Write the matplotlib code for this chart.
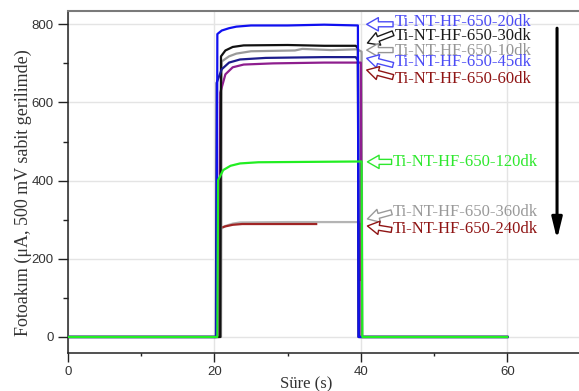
import numpy as np
import matplotlib
matplotlib.use("Agg")
import matplotlib.pyplot as plt
from matplotlib.ticker import MultipleLocator

# ---------------- data (time in s, photocurrent in uA) ----------------
t_20dk = [0, 20.3, 20.4, 21.0, 22.0, 23.0, 25.0, 30, 35, 39.6, 39.7, 60]
v_20dk = [0, 0, 775, 784, 790, 794, 797, 797, 799, 797, 0, 0]

t_30dk = [0, 20.8, 20.9, 21.5, 22.5, 24, 30, 35, 39.3, 39.6, 39.7, 60]
v_30dk = [0, 0, 718, 733, 742, 746, 747, 745, 745, 739, 0, 0]

t_10dk = [0, 20.9, 21.0, 22, 23, 25, 31, 32, 36, 39.5, 40.1, 40.2, 60]
v_10dk = [0, 0, 705, 718, 725, 731, 733, 737, 734, 736, 730, 0, 0]

t_45dk = [0, 20.2, 20.3, 21, 22, 23.5, 27, 35, 39.3, 39.6, 39.7, 60]
v_45dk = [0, 0, 650, 685, 702, 710, 714, 716, 716, 708, 0, 0]

t_60dk = [0, 20.6, 20.8, 21.5, 22.5, 24, 28, 35, 40, 40.1, 60]
v_60dk = [0, 0, 625, 672, 690, 697, 700, 702, 702, 0, 0]

t_120dk = [0, 20.4, 20.5, 21.2, 22.2, 23.5, 26, 33, 40.1, 40.2, 60]
v_120dk = [0, 0, 401, 427, 438, 444, 447, 448, 449, 0, 0]

t_360dk = [0, 20.6, 20.7, 21.5, 22.5, 23.5, 30, 39.8, 39.9, 60]
v_360dk = [0, 0, 274, 284, 290, 293, 294, 294, 0, 0]

t_240dk = [20.8, 21.5, 22.5, 23.8, 33.9, np.nan, 40.0, 40.0]
v_240dk = [279, 283, 287, 289, 289, np.nan, 289, 146]

labels = ["Ti-NT-HF-650-20dk", "Ti-NT-HF-650-30dk", "Ti-NT-HF-650-10dk",
          "Ti-NT-HF-650-45dk", "Ti-NT-HF-650-60dk", "Ti-NT-HF-650-120dk",
          "Ti-NT-HF-650-360dk", "Ti-NT-HF-650-240dk"]

x_ticks = [0, 20, 40, 60]
y_ticks = [0, 200, 400, 600, 800]

# ---------------- styling / layout ----------------
line_colors = {
    "20dk": "#1010f0", "30dk": "#111111", "10dk": "#9a9a9a", "45dk": "#1c1c8c",
    "60dk": "#8e1e8e", "120dk": "#22ee22", "360dk": "#b4b4b4", "240dk": "#a02424",
}
text_colors = ["#4b4bf5", "#1a1a1a", "#959595", "#4b4bf5", "#8f1414",
               "#2ee82e", "#9a9a9a", "#8f1414"]
# (text x, text y, head (x,y), tail (x,y)) in data coordinates
ann_layout = [
    (44.7, 806, (40.8, 800), (44.4, 800)),
    (44.7, 770, (40.9, 752), (44.4, 777)),
    (44.7, 731, (40.8, 734), (44.4, 734)),
    (44.7, 703, (40.8, 713), (44.4, 696)),
    (44.7, 660, (40.8, 683), (44.4, 665)),
    (44.4, 448, (40.9, 448), (44.2, 448)),
    (44.4, 320, (40.9, 302), (44.2, 319)),
    (44.4, 276, (40.9, 284), (44.2, 274)),
]

fig = plt.figure(figsize=(5.79, 3.91), dpi=100)
ax = fig.add_axes([68 / 579, 1 - 353 / 391, 1 - 68 / 579, (353 - 11) / 391])

ax.set_xlim(0, 69.8)
ax.set_ylim(-41, 834)

lw = 1.6
series = [
    (t_360dk, v_360dk, "360dk"),
    (t_240dk, v_240dk, "240dk"),
    (t_10dk, v_10dk, "10dk"),
    (t_60dk, v_60dk, "60dk"),
    (t_30dk, v_30dk, "30dk"),
    (t_45dk, v_45dk, "45dk"),
    (t_20dk, v_20dk, "20dk"),
    (t_120dk, v_120dk, "120dk"),
]
for t, v, key in series:
    ax.plot(t, v, color=line_colors[key], lw=lw, solid_joinstyle="round", zorder=3)

# grid
ax.set_xticks(x_ticks)
ax.set_yticks(y_ticks)
ax.xaxis.set_minor_locator(MultipleLocator(10))
ax.yaxis.set_minor_locator(MultipleLocator(100))
ax.grid(True, which="major", color="#e4e4e4", lw=1.0, zorder=0)
ax.set_axisbelow(True)

# spines
ax.spines["right"].set_visible(False)
ax.spines["top"].set_color("#7a7a7a")
ax.spines["top"].set_linewidth(1.5)
ax.spines["left"].set_color("#222222")
ax.spines["bottom"].set_color("#222222")
ax.spines["left"].set_linewidth(1.1)
ax.spines["bottom"].set_linewidth(1.1)

ax.tick_params(axis="y", which="major", length=7.2, width=1.0, pad=3, colors="#222222",
               labelcolor="#333333")
ax.tick_params(axis="y", which="minor", length=3.6, width=1.0, colors="#222222")
ax.tick_params(axis="x", which="major", length=6.5, width=1.0, pad=3, colors="#222222",
               labelcolor="#333333")
ax.tick_params(axis="x", which="minor", length=2.5, width=1.0, colors="#222222")
for lab in ax.get_xticklabels() + ax.get_yticklabels():
    lab.set_fontfamily("Liberation Sans")
    lab.set_fontsize(9.5)

ax.set_xlabel("Süre (s)", family="Liberation Serif", fontsize=12, color="#333333")
ax.xaxis.set_label_coords(0.466, -0.068)
ax.set_ylabel("Fotoakım (μA, 500 mV sabit gerilimde)", family="Liberation Serif",
              fontsize=13, color="#333333")
ax.yaxis.set_label_coords(-0.07, 0.47)

# annotations
for lab, col, (tx, ty, head, tail) in zip(labels, text_colors, ann_layout):
    ax.text(tx, ty, lab, color=col, family="Liberation Serif", fontsize=12,
            ha="left", va="center", zorder=5)
    ax.annotate("", xy=head, xytext=tail,
                arrowprops=dict(arrowstyle="simple,head_length=0.7,head_width=0.8,tail_width=0.3",
                                fc="white", ec=col, lw=1.0, shrinkA=0, shrinkB=0,
                                mutation_scale=12), zorder=5)

# big black arrow
ax.annotate("", xy=(66.8, 250), xytext=(66.8, 790),
            arrowprops=dict(arrowstyle="-|>,head_length=0.9,head_width=0.22",
                            color="black", lw=2.2, shrinkA=0, shrinkB=0,
                            mutation_scale=14))

fig.savefig("out.png", dpi=100)
